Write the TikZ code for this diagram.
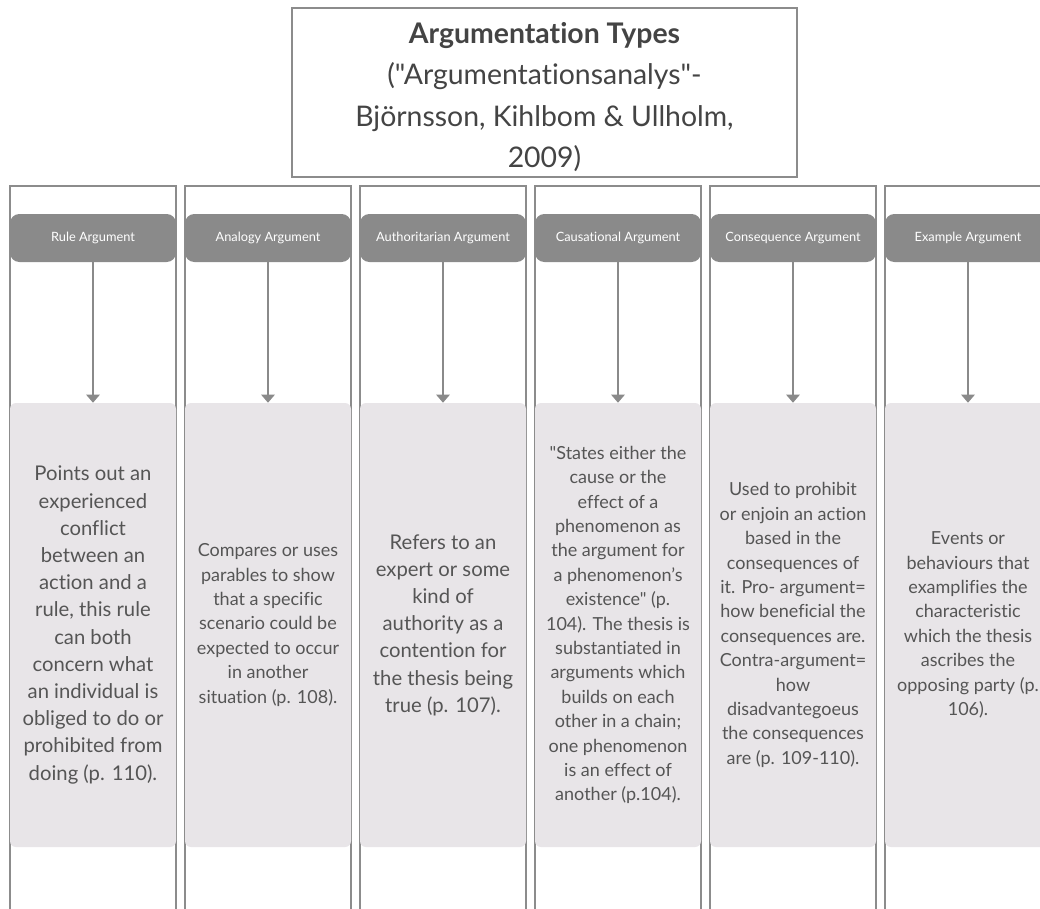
\documentclass[tikz,border=0pt]{standalone}
\usepackage{fontspec}
\setmainfont{Lato}[Ligatures={TeXOff,NoCommon}]
\usetikzlibrary{arrows.meta}
\definecolor{hdrfill}{HTML}{8A8A8A}
\definecolor{bodyfill}{HTML}{E8E5E8}
\definecolor{txt}{HTML}{555555}
\definecolor{lanec}{HTML}{8C8C8C}
\definecolor{titlec}{HTML}{444444}
\begin{document}
\begin{tikzpicture}[x=0.75pt,y=-0.75pt,
  lane/.style={draw=lanec,line width=1.1pt},
  hdrbox/.style={fill=hdrfill,draw=none,rounded corners=7pt,minimum width=124.5pt,minimum height=36pt,inner sep=0pt,text=white,font=\fontsize{9.6pt}{11pt}\selectfont},
  bodybox/.style={fill=bodyfill,draw=none,rounded corners=4.5pt,minimum width=124.5pt,minimum height=333pt,inner sep=0pt,text=txt,align=center},
  bigtxt/.style={font=\fontsize{15.2pt}{20.4pt}\selectfont},
  smalltxt/.style={font=\fontsize{13.5pt}{18.3pt}\selectfont},
  conn/.style={draw=hdrfill,line width=1.1pt,-{Triangle[width=10pt,length=6pt]}},
  titletxt/.style={align=center,text=titlec,font=\fontsize{21.3pt}{31pt}\selectfont,inner sep=0pt}
]
\useasboundingbox (0,0) rectangle (1040,908);
\clip (0,0) rectangle (1040,908);
\fill[white] (0,0) rectangle (1040,908);

\draw[lanec,line width=1.1pt] (292,8) rectangle (797,177);
\node[titletxt] (title) at (544.5,97) {\textbf{Argumentation Types}\\("Argumentationsanalys"-\\Björnsson, Kihlbom \& Ullholm,\\2009)};

\foreach \i/\cx in {1/93,2/268,3/443,4/618,5/793,6/968}{
  \draw[lane] (\cx-83,186) rectangle (\cx+83,940);
}

\node[hdrbox] (h1) at (93,238) {Rule Argument};
\node[hdrbox] (h2) at (268,238) {Analogy Argument};
\node[hdrbox] (h3) at (443,238) {Authoritarian Argument};
\node[hdrbox] (h4) at (618,238) {Causational Argument};
\node[hdrbox] (h5) at (793,238) {Consequence Argument};
\node[hdrbox] (h6) at (968,238) {Example Argument};

\node[bodybox,bigtxt] (b1) at (93,625) {Points out an\\experienced\\conflict\\between an\\action and a\\rule, this rule\\can both\\concern what\\an individual is\\obliged to do or\\prohibited from\\doing (p. 110).};
\node[bodybox,smalltxt] (b2) at (268,625) {Compares or uses\\parables to show\\that a specific\\scenario could be\\expected to occur\\in another\\situation (p. 108).};
\node[bodybox,bigtxt] (b3) at (443,625) {Refers to an\\expert or some\\kind of\\authority as a\\contention for\\the thesis being\\true (p. 107).};
\node[bodybox,smalltxt] (b4) at (618,625) {"States either the\\cause or the\\effect of a\\phenomenon as\\the argument for\\a phenomenon’s\\existence" (p.\\104). The thesis is\\substantiated in\\arguments which\\builds on each\\other in a chain;\\one phenomenon\\is an effect of\\another (p.104).};
\node[bodybox,smalltxt] (b5) at (793,625) {Used to prohibit\\or enjoin an action\\based in the\\consequences of\\it. Pro- argument=\\how beneficial the\\consequences are.\\Contra-argument=\\how\\disadvantegoeus\\the consequences\\are (p. 109-110).};
\node[bodybox,smalltxt] (b6) at (968,625) {Events or\\behaviours that\\examplifies the\\characteristic\\which the thesis\\ascribes the\\opposing party (p.\\106).};

\foreach \i in {1,...,6}{
  \draw[conn] (h\i.south) -- (b\i.north);
}
\end{tikzpicture}
\end{document}
